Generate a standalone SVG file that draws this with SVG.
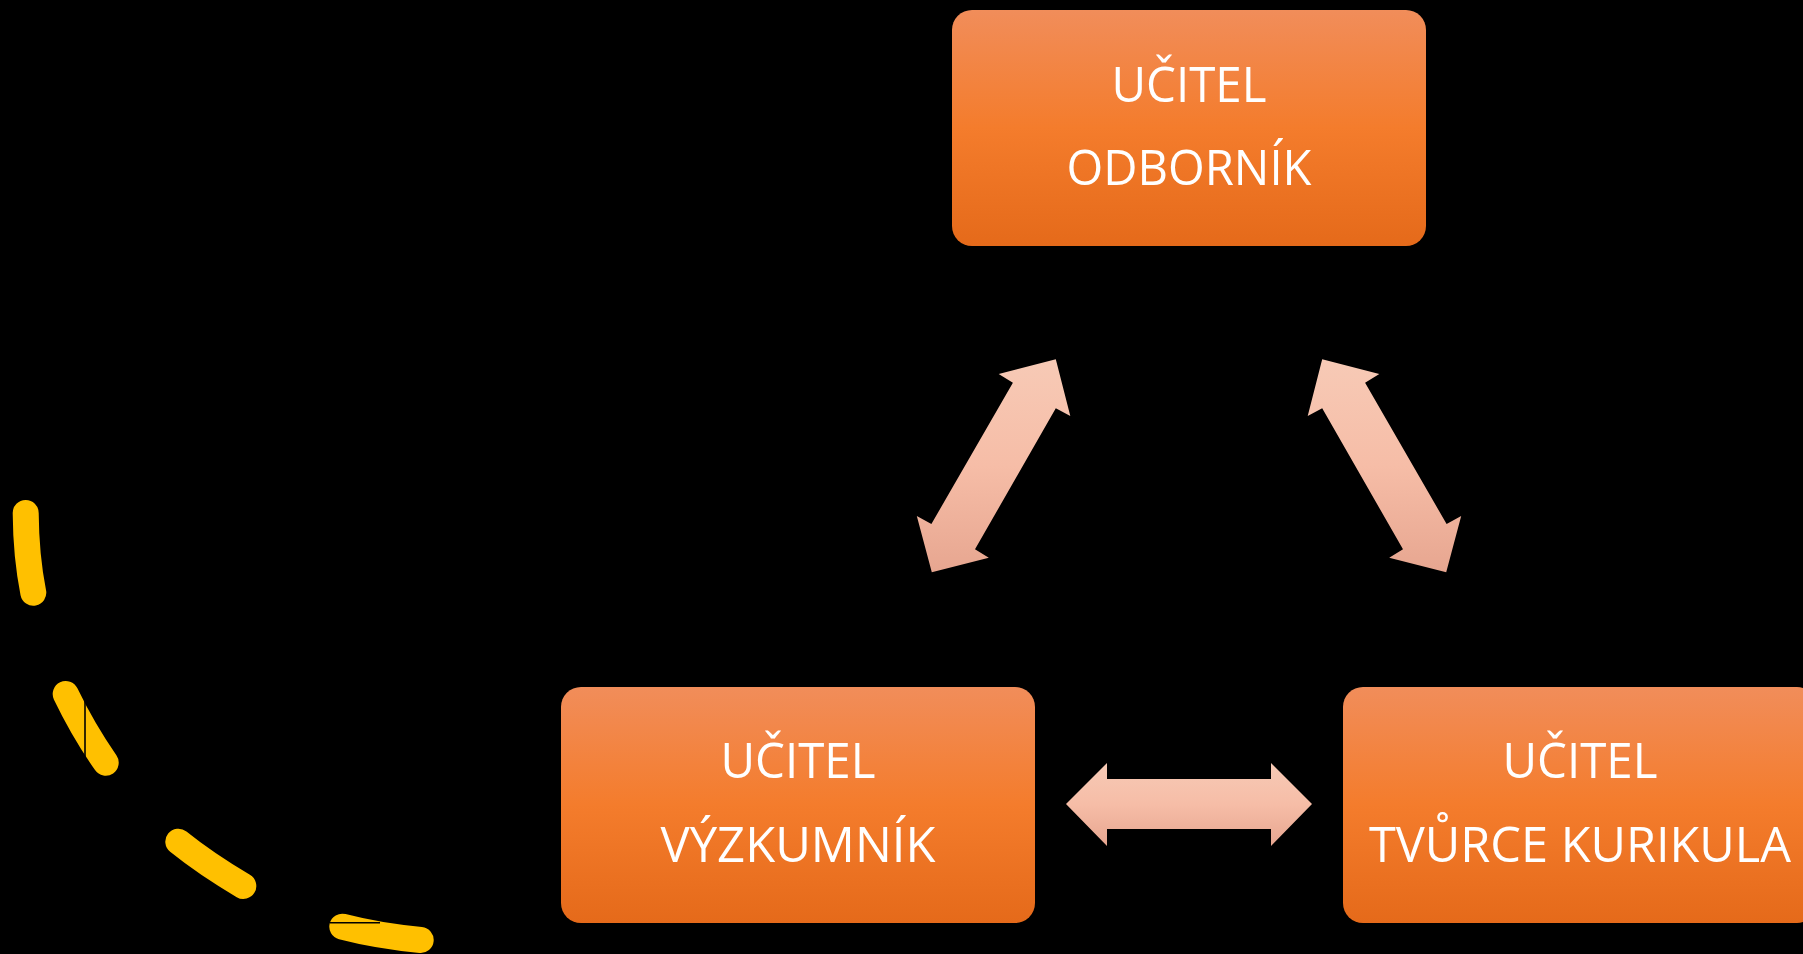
<svg xmlns="http://www.w3.org/2000/svg" width="1803" height="954" viewBox="0 0 1803 954">
  <defs>
    <linearGradient id="boxGrad" x1="0" y1="0" x2="0" y2="1">
      <stop offset="0" stop-color="#F18D5A"/>
      <stop offset="0.5" stop-color="#F47C2C"/>
      <stop offset="1" stop-color="#E56A1A"/>
    </linearGradient>
    <linearGradient id="arrowGrad" x1="0" y1="0" x2="0" y2="1">
      <stop offset="0" stop-color="#F7CAB6"/>
      <stop offset="0.5" stop-color="#F6BDA7"/>
      <stop offset="1" stop-color="#E7A690"/>
    </linearGradient>
    <style>
      .box { fill: url(#boxGrad); }
      .lbl { font-family: "Open Sans", "Noto Sans", "DejaVu Sans", sans-serif; font-size: 50px; fill: #FFFFFF; text-anchor: middle; }
      .arr { fill: url(#arrowGrad); }
      .dash { fill: none; stroke: #FFC000; stroke-width: 26; stroke-linecap: round; }
      .cut { stroke: #000000; stroke-width: 1.6; }
    </style>
  </defs>
  <rect x="0" y="0" width="1803" height="954" fill="#000000"/>

  <g id="decor">
    <path class="dash" d="M25.7,513 Q26,556 33.3,592.7"/>
    <path class="dash" d="M65.7,694 Q83,730 105.7,762.7"/>
    <path class="dash" d="M178.3,841.7 Q206,864 243.3,886"/>
    <path class="dash" d="M342.3,926.7 Q378,936 420.7,940"/>
    <line class="cut" x1="85" y1="700" x2="85" y2="757"/>
    <line class="cut" x1="330" y1="922.7" x2="380" y2="922.7"/>
  </g>

  <g id="node-odbornik">
    <rect class="box" x="952" y="10" width="474" height="236" rx="20" ry="20"/>
    <text class="lbl" x="1189" y="102" textLength="155" lengthAdjust="spacingAndGlyphs">UČITEL</text>
    <text class="lbl" x="1189" y="185" textLength="245" lengthAdjust="spacingAndGlyphs">ODBORNÍK</text>
  </g>

  <g id="node-vyzkumnik">
    <rect class="box" x="561" y="687" width="474" height="236" rx="20" ry="20"/>
    <text class="lbl" x="798" y="778" textLength="155" lengthAdjust="spacingAndGlyphs">UČITEL</text>
    <text class="lbl" x="798" y="862" textLength="275" lengthAdjust="spacingAndGlyphs">VÝZKUMNÍK</text>
  </g>

  <g id="node-tvurce">
    <rect class="box" x="1343" y="687" width="474" height="236" rx="20" ry="20"/>
    <text class="lbl" x="1580" y="778" textLength="155" lengthAdjust="spacingAndGlyphs">UČITEL</text>
    <text class="lbl" x="1580" y="862" textLength="422" lengthAdjust="spacingAndGlyphs">TVŮRCE KURIKULA</text>
  </g>

  <g id="connectors">
    <polygon class="arr" points="1055.8,359.3 1070.3,416 1055.8,408.3 975,549.3 988.8,557.7 931.8,572.3 916.8,516 931.4,524 1012.9,382.7 998.7,374"/>
    <polygon class="arr" points="1322.2,359.3 1307.7,416 1322.2,408.3 1403,549.3 1389.2,557.7 1446.2,572.3 1461.2,516 1446.6,524 1365.1,382.7 1379.3,374"/>
    <polygon class="arr" points="1066,804 1107,763 1107,779 1271,779 1271,763 1312,804 1271,846 1271,829 1107,829 1107,846"/>
  </g>
</svg>
